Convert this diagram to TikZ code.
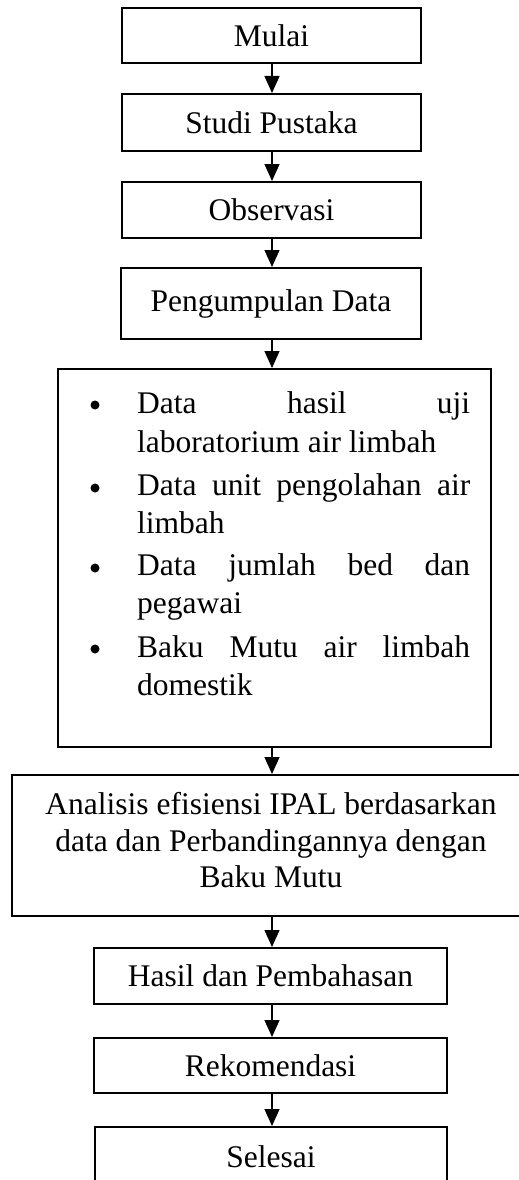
\documentclass[tikz,border=0pt]{standalone}
\usepackage{fontspec}
\setmainfont{Liberation Serif}
\usetikzlibrary{arrows.meta}
\begin{document}
\begin{tikzpicture}[x=1pt,y=-1pt,
  box/.style={draw, line width=2pt, inner sep=0pt, align=center,
    font=\fontsize{31.5pt}{36.5pt}\selectfont},
  txt/.style={inner sep=0pt, anchor=base west,
    font=\fontsize{31.5pt}{36.5pt}\selectfont},
  ctxt/.style={inner sep=0pt, align=center,
    font=\fontsize{31.5pt}{36.5pt}\selectfont},
  dot/.style={circle, fill, inner sep=0pt, minimum size=9pt},
  arr/.style={-{Triangle[width=15pt,length=17pt]}, line width=1.3pt}]
\useasboundingbox (0,0) rectangle (519,1180);
\clip (0,0) rectangle (519,1180);

\node[box, minimum width=299pt, minimum height=55pt] (mulai) at (271.5,35.5) {Mulai};
\node[box, minimum width=299pt, minimum height=57pt] (studi) at (271.5,122.5) {Studi Pustaka};
\node[box, minimum width=299pt, minimum height=56pt] (obs) at (271.5,210) {Observasi};
\node[box, minimum width=300pt, minimum height=71pt] (kumpul) at (271,303.5) {Pengumpulan Data};
\node[box, minimum width=433pt, minimum height=378pt] (data) at (274.5,558) {};

\node[dot] (b1) at (95,405) {};
\node[dot] (b2) at (95,488) {};
\node[dot] (b3) at (95,568) {};
\node[dot] (b4) at (95,649) {};
\node[txt] (l1) at (137,413) {\makebox[333pt][s]{Data hasil uji}};
\node[txt] (l2) at (137,452) {laboratorium air limbah};
\node[txt] (l3) at (137,495) {\makebox[333pt][s]{Data unit pengolahan air}};
\node[txt] (l4) at (137,533) {limbah};
\node[txt] (l5) at (137,575) {\makebox[333pt][s]{Data jumlah bed dan}};
\node[txt] (l6) at (137,613) {pegawai};
\node[txt] (l7) at (137,657) {\makebox[333pt][s]{Baku Mutu air limbah}};
\node[txt] (l8) at (137,695) {domestik};

\node[box, minimum width=528pt, minimum height=141pt] (analisis) at (276,845.5) {};
\node[ctxt] (analisisT) at (271,840.5) {Analisis efisiensi IPAL berdasarkan\\data dan Perbandingannya dengan\\Baku Mutu};

\node[box, minimum width=353pt, minimum height=56pt] (hasil) at (270.5,976) {Hasil dan Pembahasan};
\node[box, minimum width=353pt, minimum height=55pt] (rekom) at (270.5,1065.5) {Rekomendasi};
\node[box, minimum width=352pt, minimum height=60pt] (selesai) at (271,1157) {Selesai};

\coordinate (ax) at (272,0);
\draw[arr] (mulai.south -| ax) -- (studi.north -| ax);
\draw[arr] (studi.south -| ax) -- (obs.north -| ax);
\draw[arr] (obs.south -| ax) -- (kumpul.north -| ax);
\draw[arr] (kumpul.south -| ax) -- (data.north -| ax);
\draw[arr] (data.south -| ax) -- (analisis.north -| ax);
\draw[arr] (analisis.south -| ax) -- (hasil.north -| ax);
\draw[arr] (hasil.south -| ax) -- (rekom.north -| ax);
\draw[arr] (rekom.south -| ax) -- (selesai.north -| ax);
\end{tikzpicture}
\end{document}
